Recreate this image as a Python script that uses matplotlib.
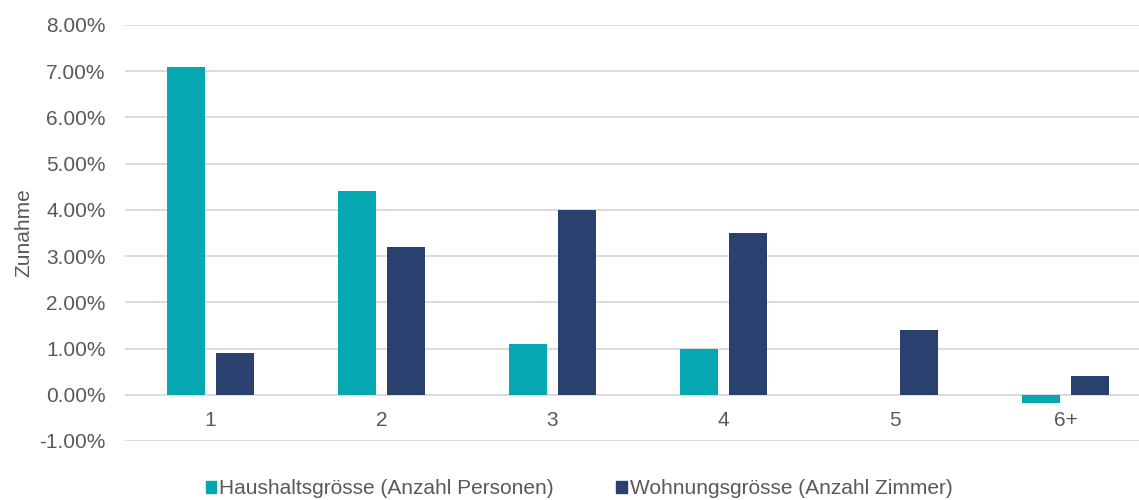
import numpy as np
import matplotlib.pyplot as plt
from matplotlib.patches import Patch
from matplotlib.ticker import FuncFormatter

plt.rcParams['font.family'] = ['Liberation Sans', 'DejaVu Sans']

categories = ['1', '2', '3', '4', '5', '6+']
haushalt = [7.1, 4.4, 1.1, 1.0, 0.0, -0.18]
wohnung = [0.9, 3.2, 4.0, 3.5, 1.4, 0.4]
labels = ['Haushaltsgrösse (Anzahl Personen)', 'Wohnungsgrösse (Anzahl Zimmer)']

teal = '#05A8B0'
navy = '#2A416F'
grey = '#595959'

fig = plt.figure(figsize=(11.39, 5.0), dpi=100)
ax = fig.add_axes([125 / 1139, 59 / 500, 1 - 125 / 1139, 416 / 500])

x = np.arange(len(categories))
w = 0.222
ax.bar(x - 0.143, haushalt, w, color=teal, zorder=3)
ax.bar(x + 0.143, wohnung, w, color=navy, zorder=3)

ax.set_ylim(-1, 8)
ax.set_xlim(-0.5, 5.43)
ax.set_yticks(np.arange(-1, 9, 1))
ax.yaxis.set_major_formatter(FuncFormatter(lambda v, p: '%.2f%%' % v))
ax.grid(axis='y', color='#D9D9D9', linewidth=1.3, zorder=0)

for s in ax.spines.values():
    s.set_visible(False)
ax.spines['bottom'].set_position(('data', 0))

ax.set_xticks(x)
ax.set_xticklabels(categories)
ax.tick_params(axis='x', length=0, pad=12, labelsize=15, labelcolor=grey)
ax.tick_params(axis='y', length=0, pad=14, labelsize=15, labelcolor=grey)

ax.set_ylabel('Zunahme', fontsize=15, color=grey, labelpad=4)

handles = [Patch(color=teal), Patch(color=navy)]
fig.legend(handles, labels, loc='center', bbox_to_anchor=(0.5085, 0.022),
           ncol=2, frameon=False, fontsize=15, handlelength=0.5, handleheight=0.5,
           handletextpad=0.15, columnspacing=3.0, labelcolor=grey)

fig.savefig('out.png', dpi=100)
